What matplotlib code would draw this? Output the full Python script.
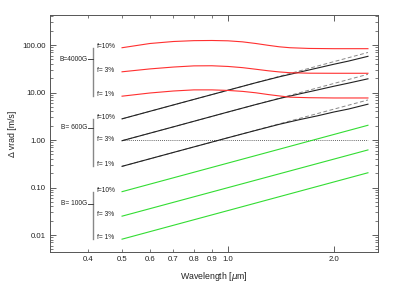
import matplotlib
matplotlib.use("Agg")
import matplotlib.pyplot as plt
from matplotlib.ticker import FixedLocator, NullFormatter, FixedFormatter, LogLocator

plt.rcParams['font.family'] = ['Liberation Sans', 'DejaVu Sans']

# wavelengths (micron)
wl_lin = [0.5, 2.5]
# B=100G (green), straight lines
g10 = [0.082, 2.05]
g3 = [0.025, 0.62]
g1 = [0.0082, 0.205]

# B=600G (black), solid bends at long wavelengths
wl_k = [0.5, 0.7, 1.0, 1.2, 1.4, 1.6, 1.8, 2.0, 2.2, 2.5]
k10 = [2.8, 5.5, 11.2, 16.1, 21.5, 27.0, 33.0, 39.5, 46.0, 58.0]
k3 = [0.97, 1.9, 3.9, 5.6, 7.5, 9.4, 11.4, 13.6, 15.8, 19.5]
k1 = [0.28, 0.55, 1.12, 1.6, 2.15, 2.7, 3.25, 3.9, 4.5, 5.7]
# dashed (unsaturated) continuation
kd10 = [2.8, 70.0]
kd3 = [0.97, 24.3]
kd1 = [0.28, 7.0]

# B=4000G (red)
wl_r = [0.5, 0.6, 0.7, 0.8, 0.9, 1.0, 1.1, 1.2, 1.3, 1.4, 1.5, 1.7, 2.0, 2.5]
r10 = [88, 108, 119, 124, 125, 123, 117, 108, 99, 92, 88, 85, 84, 84]
r3 = [27.4, 31.5, 34.5, 36.5, 36.7, 35.5, 33.5, 31.0, 28.8, 27.2, 26.2, 25.6, 25.5, 25.5]
r1 = [8.4, 9.8, 10.8, 11.4, 11.4, 11.1, 10.6, 9.9, 9.1, 8.5, 8.0, 7.8, 7.7, 7.7]

xmajor = [1.0, 2.0]
xmajorlabels = ['1.0', '2.0']
xminor = [0.4, 0.5, 0.6, 0.7, 0.8, 0.9]
xminorlabels = ['0.4', '0.5', '0.6', '0.7', '0.8', '0.9']
yticks = [0.01, 0.1, 1.0, 10.0, 100.0]
yticklabels = ['0.01', '0.10', '1.00', '10.00', '100.00']

groups = [
    ('B=4000G', [r10, r3, r1], 50.0),
    ('B= 600G', [k10, k3, k1], 1.8),
    ('B= 100G', [g10, g3, g1], 0.046),
]
flabels = ['f=10%', 'f= 3%', 'f= 1%']

fig = plt.figure(figsize=(3.95, 2.85), dpi=100)
ax = fig.add_axes([50/395, 1-252/285, (378-50)/395, (252-15)/285])
ax.set_xscale('log')
ax.set_yscale('log')
ax.set_xlim(0.312, 2.67)
ax.set_ylim(0.0044, 430)

# lines
for y in [kd10, kd3, kd1]:
    ax.plot(wl_lin, y, color='#888888', lw=0.7, ls=(0, (4, 2.5)), zorder=1)
for y in [k10, k3, k1]:
    ax.plot(wl_k, y, color='#222222', lw=0.8, zorder=2)
for y in [r10, r3, r1]:
    ax.plot(wl_r, y, color='#ff3030', lw=0.8, zorder=3)
for y in [g10, g3, g1]:
    ax.plot(wl_lin, y, color='#33dd33', lw=0.8, zorder=3)
ax.plot(wl_lin, [1.0, 1.0], color='#333333', lw=0.6, ls=(0, (1, 1.5)), zorder=1)

# annotations
fs = 4.8
for name, ys, ymid in groups:
    starts = [s[0] for s in ys]
    for lab, v in zip(flabels, starts):
        ax.text(0.425, v * 1.08, lab, fontsize=fs, ha='left', va='center', color='#222222')
    ax.plot([0.414, 0.414], [starts[0], starts[2]], color='#888888', lw=1.0)
    ax.plot([0.401, 0.414], [ymid, ymid], color='#444444', lw=0.7)
    ax.text(0.398, ymid, name, fontsize=fs, ha='right', va='center', color='#222222')

# ticks
ax.xaxis.set_major_locator(FixedLocator(xmajor))
ax.xaxis.set_major_formatter(FixedFormatter(xmajorlabels))
ax.xaxis.set_minor_locator(FixedLocator(xminor))
ax.xaxis.set_minor_formatter(FixedFormatter(xminorlabels))
ax.yaxis.set_major_locator(FixedLocator(yticks))
ax.yaxis.set_major_formatter(FixedFormatter(yticklabels))
ax.yaxis.set_minor_locator(LogLocator(base=10, subs=range(2, 10), numticks=20))
ax.yaxis.set_minor_formatter(NullFormatter())
ax.tick_params(which='major', direction='in', length=4.5, width=0.6, color='#444444',
               labelsize=5.6, top=True, right=True, pad=3, labelcolor='#222222')
ax.tick_params(which='minor', direction='in', length=2.2, width=0.5, color='#444444',
               top=True, right=True, labelsize=5.6, pad=3, labelcolor='#222222')
for s in ax.spines.values():
    s.set_color('#555555')
    s.set_linewidth(0.7)

ax.set_xlabel('Wavelength [$\\mu$m]', fontsize=6.3, color='#222222', labelpad=5)
ax.set_ylabel('Δ vrad [m/s]', fontsize=6.3, color='#222222', labelpad=4)

fig.savefig('out.png', dpi=100)
